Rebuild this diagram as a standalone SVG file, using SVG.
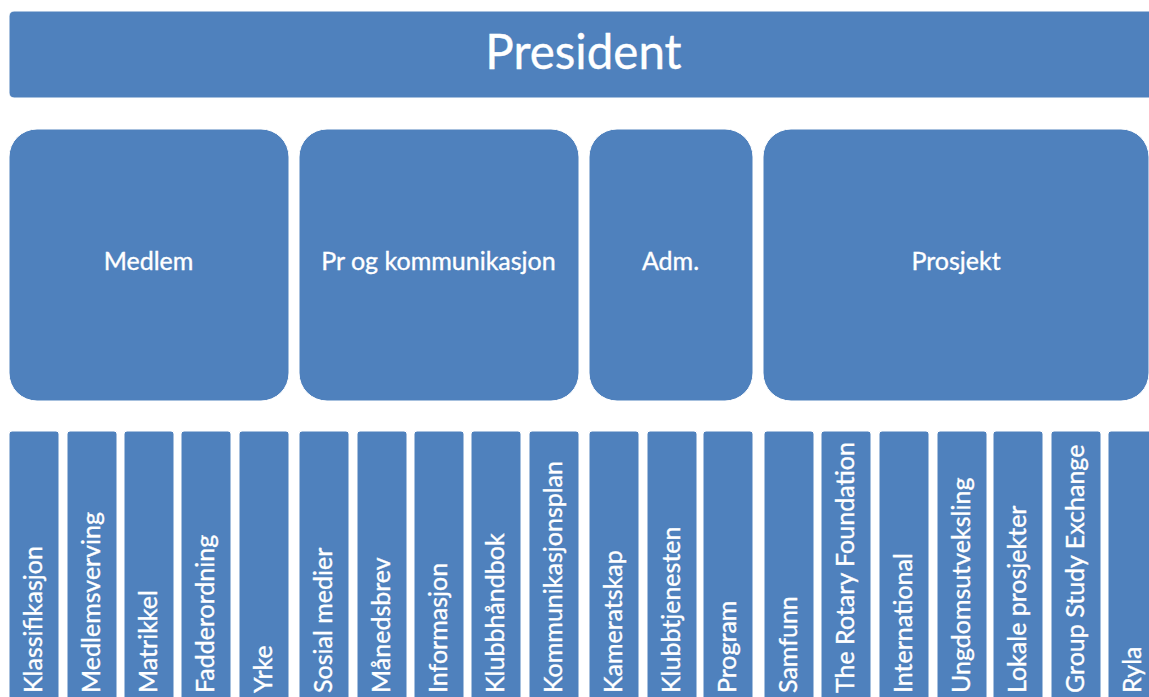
<svg xmlns="http://www.w3.org/2000/svg" width="1149" height="697" viewBox="0 0 1149 697">
<style>
.box{fill:#4F81BD;stroke:#ffffff;stroke-width:1}
.t{fill:#ffffff;stroke:#ffffff;stroke-width:0.35;font-family:Lato,"Open Sans","Liberation Sans",sans-serif}
.mid{font-size:25px;text-anchor:middle}
.col{font-size:25px;text-anchor:start}
</style>
<rect width="1149" height="697" fill="#ffffff"/>
<g id="president">
<rect class="box" x="9" y="11" width="1160" height="87" rx="5"/>
<text class="t" x="583.5" y="68.5" font-size="47.5" text-anchor="middle">President</text>
</g>
<g id="medlem">
<rect class="box" x="9" y="129" width="280" height="272" rx="28"/>
<text class="t mid" x="148.5" y="270">Medlem</text>
</g>
<g id="pr">
<rect class="box" x="299" y="129" width="280" height="272" rx="28"/>
<text class="t mid" x="438.5" y="270">Pr og kommunikasjon</text>
</g>
<g id="adm">
<rect class="box" x="589" y="129" width="164" height="272" rx="28"/>
<text class="t mid" x="670.5" y="270">Adm.</text>
</g>
<g id="prosjekt">
<rect class="box" x="763" y="129" width="386" height="272" rx="28"/>
<text class="t mid" x="956" y="270">Prosjekt</text>
</g>
<g id="connectors"></g>
<g id="c1"><rect class="box" x="9" y="431" width="50" height="290" rx="3"/><text class="t col" transform="translate(42,693) rotate(-90)">Klassifikasjon</text></g>
<g id="c2"><rect class="box" x="67" y="431" width="50" height="290" rx="3"/><text class="t col" transform="translate(100,693) rotate(-90)">Medlemsverving</text></g>
<g id="c3"><rect class="box" x="124" y="431" width="50" height="290" rx="3"/><text class="t col" transform="translate(157,693) rotate(-90)">Matrikkel</text></g>
<g id="c4"><rect class="box" x="181" y="431" width="50" height="290" rx="3"/><text class="t col" transform="translate(214,693) rotate(-90)">Fadderordning</text></g>
<g id="c5"><rect class="box" x="239" y="431" width="50" height="290" rx="3"/><text class="t col" transform="translate(272,693) rotate(-90)">Yrke</text></g>
<g id="c6"><rect class="box" x="299" y="431" width="50" height="290" rx="3"/><text class="t col" transform="translate(332,693) rotate(-90)">Sosial medier</text></g>
<g id="c7"><rect class="box" x="357" y="431" width="50" height="290" rx="3"/><text class="t col" transform="translate(390,693) rotate(-90)">Månedsbrev</text></g>
<g id="c8"><rect class="box" x="414" y="431" width="50" height="290" rx="3"/><text class="t col" transform="translate(447,693) rotate(-90)">Informasjon</text></g>
<g id="c9"><rect class="box" x="471" y="431" width="50" height="290" rx="3"/><text class="t col" transform="translate(504,693) rotate(-90)">Klubbhåndbok</text></g>
<g id="c10"><rect class="box" x="529" y="431" width="50" height="290" rx="3"/><text class="t col" transform="translate(562,693) rotate(-90)">Kommunikasjonsplan</text></g>
<g id="c11"><rect class="box" x="589" y="431" width="50" height="290" rx="3"/><text class="t col" transform="translate(622,693) rotate(-90)">Kameratskap</text></g>
<g id="c12"><rect class="box" x="647" y="431" width="50" height="290" rx="3"/><text class="t col" transform="translate(680,693) rotate(-90)">Klubbtjenesten</text></g>
<g id="c13"><rect class="box" x="703" y="431" width="50" height="290" rx="3"/><text class="t col" transform="translate(736,693) rotate(-90)">Program</text></g>
<g id="c14"><rect class="box" x="764" y="431" width="50" height="290" rx="3"/><text class="t col" transform="translate(797,693) rotate(-90)">Samfunn</text></g>
<g id="c15"><rect class="box" x="821" y="431" width="50" height="290" rx="3"/><text class="t col" transform="translate(854,693) rotate(-90)">The Rotary Foundation</text></g>
<g id="c16"><rect class="box" x="879" y="431" width="50" height="290" rx="3"/><text class="t col" transform="translate(912,693) rotate(-90)">International</text></g>
<g id="c17"><rect class="box" x="937" y="431" width="50" height="290" rx="3"/><text class="t col" transform="translate(970,693) rotate(-90)">Ungdomsutveksling</text></g>
<g id="c18"><rect class="box" x="993" y="431" width="50" height="290" rx="3"/><text class="t col" transform="translate(1026,693) rotate(-90)">Lokale prosjekter</text></g>
<g id="c19"><rect class="box" x="1051" y="431" width="50" height="290" rx="3"/><text class="t col" transform="translate(1084,693) rotate(-90)">Group Study Exchange</text></g>
<g id="c20"><rect class="box" x="1108" y="431" width="50" height="290" rx="3"/><text class="t col" transform="translate(1141,693) rotate(-90)">Ryla</text></g>
</svg>
